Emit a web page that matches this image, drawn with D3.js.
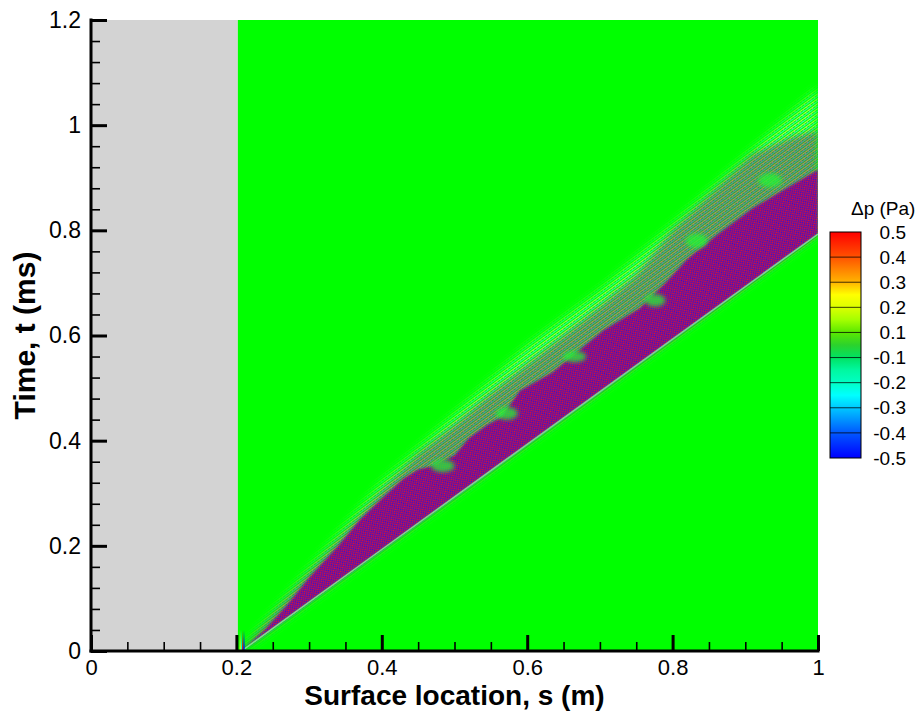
<!DOCTYPE html>
<html>
<head>
<meta charset="utf-8">
<script src="https://cdn.jsdelivr.net/npm/d3@7"></script>
<style>
  html, body { margin: 0; padding: 0; background: #fff; }
  svg { display: block; font-family: "Liberation Sans", Arial, Helvetica, sans-serif; }
</style>
</head>
<body>
<svg id="chart" width="920" height="711"></svg>
<script>
// ---------------- data ----------------
const xTicks = [0, 0.2, 0.4, 0.6, 0.8, 1];
const xTickLabels = ["0", "0.2", "0.4", "0.6", "0.8", "1"];
const xMinorTicks = [0.05, 0.1, 0.15, 0.25, 0.3, 0.35, 0.45, 0.5, 0.55, 0.65, 0.7, 0.75, 0.85, 0.9, 0.95];
const yTicks = [0, 0.2, 0.4, 0.6, 0.8, 1, 1.2];
const yTickLabels = ["0", "0.2", "0.4", "0.6", "0.8", "1", "1.2"];
const yMinorTicks = [0.04, 0.08, 0.12, 0.16, 0.24, 0.28, 0.32, 0.36, 0.44, 0.48, 0.52, 0.56,
                     0.64, 0.68, 0.72, 0.76, 0.84, 0.88, 0.92, 0.96, 1.04, 1.08, 1.12, 1.16];

// surface start (gray = outside the surface)
const surfaceStart = 0.202;

// wave-packet boundaries, [s (m), t (ms)]
const lowerEdge = [[0.207, 0], [0.4, 0.193], [0.6, 0.393], [0.8, 0.593], [1.0, 0.793]];
const darkUpper = [[0.207, 0], [0.24, 0.042], [0.27, 0.088], [0.30, 0.14], [0.34, 0.2], [0.37, 0.25],
                   [0.40, 0.29], [0.43, 0.328], [0.45, 0.345], [0.47, 0.352], [0.50, 0.372],
                   [0.52, 0.405], [0.545, 0.43], [0.565, 0.445], [0.59, 0.495], [0.635, 0.53],
                   [0.67, 0.57], [0.705, 0.61], [0.755, 0.652], [0.79, 0.70], [0.82, 0.745],
                   [0.86, 0.79], [0.91, 0.842], [0.95, 0.875], [1.0, 0.915]];
const midFringe = [[0.207, 0], [0.30, 0.15], [0.40, 0.305], [0.45, 0.375], [0.50, 0.43], [0.55, 0.49],
                   [0.60, 0.545], [0.65, 0.60], [0.70, 0.655], [0.75, 0.715], [0.80, 0.80],
                   [0.86, 0.88], [0.91, 0.945], [0.96, 0.975], [1.0, 0.99]];
const haloUpper = [[0.207, 0], [0.30, 0.155], [0.40, 0.32], [0.45, 0.385], [0.50, 0.45], [0.60, 0.58],
                   [0.70, 0.685], [0.80, 0.81], [0.90, 0.94], [1.0, 1.07]];
// green "holes" in the upper fringe: [s, t, rs, rt]
const holes = [[0.484, 0.352, 0.016, 0.012], [0.572, 0.452, 0.015, 0.012], [0.665, 0.560, 0.016, 0.011],
               [0.776, 0.667, 0.014, 0.012], [0.833, 0.780, 0.015, 0.014], [0.934, 0.895, 0.016, 0.014]];
// source streaks near the leading edge
const sourceStreaks = [[0.2055, "#ffff00"], [0.2072, "#00ffff"], [0.2088, "#ff0000"], [0.2104, "#0000ff"]];

// colour legend
const legendLabels = ["0.5", "0.4", "0.3", "0.2", "0.1", "-0.1", "-0.2", "-0.3", "-0.4", "-0.5"];
const legendStops = [[0, "#ff0000"], [1/9, "#ff5200"], [1.5/9, "#ff8400"], [2/9, "#ffb400"], [2.5/9, "#ffff00"],
                     [3/9, "#dcff00"], [3.5/9, "#a4ff00"], [4/9, "#5ae800"], [4.5/9, "#2cd22c"],
                     [5/9, "#00e262"], [5.5/9, "#00f8a0"], [6/9, "#00ffc4"], [6.5/9, "#00ffff"],
                     [7/9, "#00c8ff"], [7.5/9, "#0090ff"], [8/9, "#0058ff"], [1, "#0000ff"]];

// ---------------- drawing ----------------
const svg = d3.select("#chart");
const x = d3.scaleLinear().domain([0, 1]).range([91, 818]);
const y = d3.scaleLinear().domain([0, 1.2]).range([651, 20]);
const defs = svg.append("defs");
const PX0 = x(0), PX1 = x(1), PY0 = y(1.2), PY1 = y(0);

defs.append("clipPath").attr("id", "plotClip")
  .append("rect").attr("x", PX0).attr("y", PY0).attr("width", PX1 - PX0).attr("height", PY1 - PY0);

// checker pattern (red / blue oscillation)
const chk = defs.append("pattern").attr("id", "checker").attr("patternUnits", "userSpaceOnUse")
  .attr("width", 3).attr("height", 3).attr("patternTransform", "rotate(-36)");
chk.append("rect").attr("width", 3).attr("height", 3).attr("fill", "#2a14d8");
chk.append("rect").attr("x", 0).attr("y", 0).attr("width", 1.5).attr("height", 1.5).attr("fill", "#e8102a");
chk.append("rect").attr("x", 1.5).attr("y", 1.5).attr("width", 1.5).attr("height", 1.5).attr("fill", "#e8102a");

// halo stripes pattern
const hal = defs.append("pattern").attr("id", "halo").attr("patternUnits", "userSpaceOnUse")
  .attr("width", 4).attr("height", 4).attr("patternTransform", "rotate(-36)");
hal.append("rect").attr("width", 4).attr("height", 4).attr("fill", "#00ff00");
hal.append("rect").attr("y", 0).attr("width", 4).attr("height", 1).attr("fill", "#e0ff60");
hal.append("rect").attr("y", 2).attr("width", 4).attr("height", 1).attr("fill", "#40ffd8");
hal.append("rect").attr("x", 1).attr("y", 1).attr("width", 1).attr("height", 1).attr("fill", "#b0b0b0");

function blurFilter(id, sd) {
  defs.append("filter").attr("id", id).attr("x", "-20%").attr("y", "-20%").attr("width", "140%").attr("height", "140%")
    .append("feGaussianBlur").attr("stdDeviation", sd);
}
blurFilter("b1", 1.0);
blurFilter("b3", 3.0);
blurFilter("b5", 5.0);
blurFilter("holeBlur", 2.0);

const poly = d3.line().x(d => x(d[0])).y(d => y(d[1])).curve(d3.curveLinearClosed);
function band(upper) { return poly(upper.concat(lowerEdge.slice().reverse())); }

function softMask(id, d, sd) {
  const m = defs.append("mask").attr("id", id).attr("maskUnits", "userSpaceOnUse")
    .attr("x", 0).attr("y", 0).attr("width", 920).attr("height", 711);
  m.append("path").attr("d", d).attr("fill", "#fff").attr("filter", `url(#${sd})`);
}
softMask("mHalo", band(haloUpper), "b5");
softMask("mMix", band(midFringe), "b3");
softMask("mDark", band(darkUpper), "b1");

const streakGrad = defs.append("linearGradient").attr("id", "streakFade")
  .attr("x1", 0).attr("y1", 1).attr("x2", 0).attr("y2", 0);
streakGrad.append("stop").attr("offset", 0).attr("stop-opacity", 1).attr("stop-color", "#fff");
streakGrad.append("stop").attr("offset", 1).attr("stop-opacity", 0).attr("stop-color", "#fff");

const plot = svg.append("g").attr("clip-path", "url(#plotClip)");

// background regions
plot.append("rect").attr("x", PX0).attr("y", PY0).attr("width", x(surfaceStart) - PX0).attr("height", PY1 - PY0)
  .attr("fill", "#d3d3d3");
plot.append("rect").attr("x", x(surfaceStart)).attr("y", PY0).attr("width", PX1 - x(surfaceStart)).attr("height", PY1 - PY0)
  .attr("fill", "#00ff00");

function patternLayer(fill, mask, op) {
  plot.append("rect").attr("x", x(surfaceStart)).attr("y", PY0).attr("width", PX1 - x(surfaceStart)).attr("height", PY1 - PY0)
    .attr("fill", fill).attr("mask", `url(#${mask})`).attr("opacity", op);
}
patternLayer("url(#halo)", "mHalo", 0.8);
patternLayer("url(#checker)", "mMix", 0.4);
patternLayer("url(#checker)", "mDark", 1);

// green holes
plot.selectAll("ellipse.hole").data(holes).join("ellipse").attr("class", "hole")
  .attr("cx", d => x(d[0])).attr("cy", d => y(d[1]))
  .attr("rx", d => x(d[2]) - x(0)).attr("ry", d => y(0) - y(d[3]))
  .attr("fill", "#20f830").attr("opacity", 0.75).attr("filter", "url(#holeBlur)");

// light line on lower edge
plot.append("path").attr("d", d3.line().x(d => x(d[0])).y(d => y(d[1]))(lowerEdge))
  .attr("fill", "none").attr("stroke", "#90ffb0").attr("stroke-width", 1.5).attr("opacity", 0.7);

// source streaks
const sm = defs.append("mask").attr("id", "streakMask").attr("maskContentUnits", "userSpaceOnUse");
sm.append("rect").attr("x", x(0.2)).attr("y", y(0.04)).attr("width", x(0.215) - x(0.2)).attr("height", y(0) - y(0.04))
  .attr("fill", "url(#streakFade)");
plot.append("g").attr("mask", "url(#streakMask)")
  .selectAll("rect").data(sourceStreaks).join("rect")
  .attr("x", d => x(d[0]) - 0.8).attr("y", y(0.04)).attr("width", 1.6).attr("height", y(0) - y(0.04))
  .attr("fill", d => d[1]);

// ---------------- axes ----------------
const font = "Liberation Sans, Arial, Helvetica, sans-serif";
function styleAxis(g, major, fs) {
  g.selectAll(".domain").remove();
  g.selectAll(".tick line").attr("stroke", "#000").attr("stroke-width", major ? 3 : 1.6);
  g.selectAll(".tick text").attr("fill", "#000").attr("font-size", fs).attr("font-family", font);
}

svg.append("g").attr("transform", `translate(0,${y(0)})`)
  .call(d3.axisBottom(x).tickValues(xMinorTicks).tickSize(-9).tickFormat(""))
  .call(g => styleAxis(g, false, 22));
svg.append("g").attr("transform", `translate(0,${y(0)})`)
  .call(d3.axisBottom(x).tickValues(xTicks).tickSize(-16).tickPadding(8).tickFormat((d, i) => xTickLabels[i]))
  .call(g => styleAxis(g, true, 22));
svg.append("g").attr("transform", `translate(${x(0)},0)`)
  .call(d3.axisLeft(y).tickValues(yMinorTicks).tickSize(-9).tickFormat(""))
  .call(g => styleAxis(g, false, 23));
svg.append("g").attr("transform", `translate(${x(0)},0)`)
  .call(d3.axisLeft(y).tickValues(yTicks).tickSize(-16).tickPadding(10).tickFormat((d, i) => yTickLabels[i]))
  .call(g => styleAxis(g, true, 23));

// axis lines
svg.append("line").attr("x1", x(0) - 1.5).attr("x2", x(1) + 1.5).attr("y1", y(0)).attr("y2", y(0))
  .attr("stroke", "#000").attr("stroke-width", 3);
svg.append("line").attr("x1", x(0)).attr("x2", x(0)).attr("y1", y(0) + 1.5).attr("y2", y(1.2) - 1.5)
  .attr("stroke", "#000").attr("stroke-width", 3);

// axis titles
svg.append("text").attr("x", (x(0) + x(1)) / 2).attr("y", 705).attr("text-anchor", "middle")
  .attr("font-size", 28).attr("font-weight", "bold").attr("font-family", font).text("Surface location, s (m)");
svg.append("text").attr("transform", `translate(35,${(y(0) + y(1.2)) / 2}) rotate(-90)`).attr("text-anchor", "middle")
  .attr("font-size", 30).attr("font-weight", "bold").attr("font-family", font).text("Time, t (ms)");

// ---------------- legend ----------------
const lg = { x: 830, y: 232, w: 31, h: 226 };
const ly = d3.scaleLinear().domain([0, legendLabels.length - 1]).range([lg.y, lg.y + lg.h]);
const grad = defs.append("linearGradient").attr("id", "legendGrad").attr("x1", 0).attr("y1", 0).attr("x2", 0).attr("y2", 1);
grad.selectAll("stop").data(legendStops).join("stop").attr("offset", d => d[0]).attr("stop-color", d => d[1]);

svg.append("rect").attr("x", lg.x).attr("y", lg.y).attr("width", lg.w).attr("height", lg.h).attr("fill", "url(#legendGrad)");
svg.selectAll("line.lgline").data(legendLabels.slice(1, -1)).join("line").attr("class", "lgline")
  .attr("x1", lg.x).attr("x2", lg.x + lg.w).attr("y1", (d, i) => ly(i + 1)).attr("y2", (d, i) => ly(i + 1))
  .attr("stroke", "#000").attr("stroke-width", 1).attr("stroke-opacity", 0.75);
svg.append("rect").attr("x", lg.x).attr("y", lg.y).attr("width", lg.w).attr("height", lg.h)
  .attr("fill", "none").attr("stroke", "#000").attr("stroke-width", 1);
svg.selectAll("text.lglab").data(legendLabels).join("text").attr("class", "lglab")
  .attr("x", 906).attr("y", (d, i) => ly(i)).attr("dy", "0.35em").attr("text-anchor", "end")
  .attr("font-size", 19).attr("font-family", font).text(d => d);
svg.append("text").attr("x", 851).attr("y", 215).attr("font-size", 19).attr("font-family", font).text("Δp (Pa)");
</script>
</body>
</html>
